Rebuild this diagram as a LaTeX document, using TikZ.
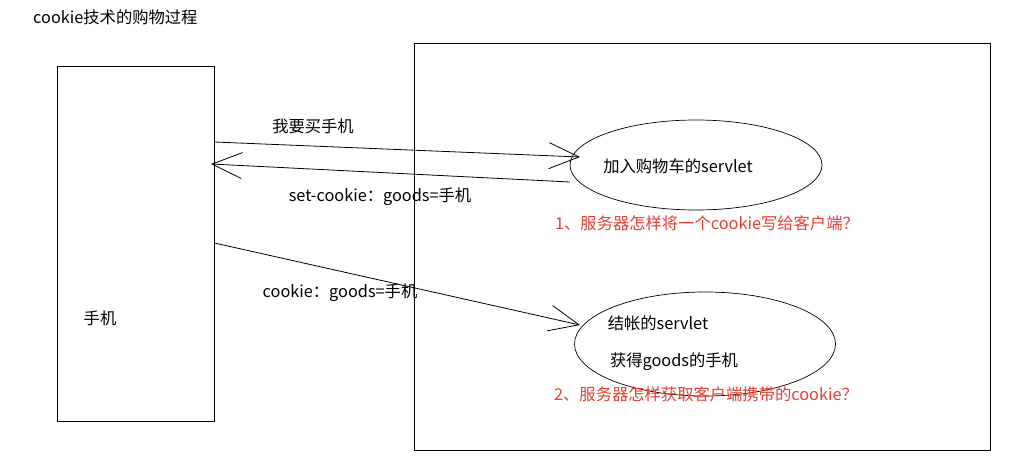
\documentclass[tikz,border=0pt]{standalone}
\usepackage{fontspec}
\setmainfont{Noto Sans CJK SC}
\usetikzlibrary{arrows.meta,shapes.geometric}
\definecolor{qred}{RGB}{232,62,50}
\begin{document}
\begin{tikzpicture}[x=1pt,y=-1pt,
  txt/.style={inner sep=0pt,font=\fontsize{16.3}{19}\selectfont},
  redtxt/.style={txt,text=qred},
  conn/.style={line width=0.8pt,-{Straight Barb[length=30pt,width=26pt,line width=0.8pt]}},
  frame/.style={draw,line width=0.9pt}]
\useasboundingbox (0,0) rectangle (1014,471);
\fill[white] (0,0) rectangle (1014,471);
\node[txt,anchor=west] (title) at (33,17) {cookie技术的购物过程};
\node[frame,minimum width=157pt,minimum height=355pt,inner sep=0pt] (phone) at (135.5,243.5) {};
\node[frame,minimum width=576pt,minimum height=407pt,inner sep=0pt] (server) at (702,246.5) {};
\node[draw,ellipse,line width=0.7pt,minimum width=252pt,minimum height=90pt,inner sep=0pt] (cart) at (696,165) {};
\node[draw,ellipse,line width=0.7pt,minimum width=261pt,minimum height=104pt,inner sep=0pt] (pay) at (705,344) {};
\node[txt] (phonelbl) at (100,318) {手机};
\node[txt] (buy) at (313,126) {我要买手机};
\node[txt] (setck) at (380,197) {set-cookie：goods=手机};
\node[txt] (ck) at (340,293) {cookie：goods=手机};
\node[txt] (cartlbl) at (678,166) {加入购物车的servlet};
\node[redtxt] (q1) at (707,223) {1、服务器怎样将一个cookie写给客户端？};
\node[txt] (paylbl) at (658,323) {结帐的servlet};
\node[txt] (getlbl) at (674,362) {获得goods的手机};
\node[redtxt] (q2) at (706,394) {2、服务器怎样获取客户端携带的cookie？};
\coordinate (a1s) at (phone.east |- 0,142);
\coordinate (a1e) at (580,157);
\coordinate (a2s) at (570,182);
\coordinate (a2e) at (211,164);
\coordinate (a3s) at (phone.east |- 0,243);
\coordinate (a3e) at (580,325);
\draw[conn] (a1s) -- (a1e);
\draw[conn] (a2s) -- (a2e);
\draw[conn] (a3s) -- (a3e);
\end{tikzpicture}
\end{document}
